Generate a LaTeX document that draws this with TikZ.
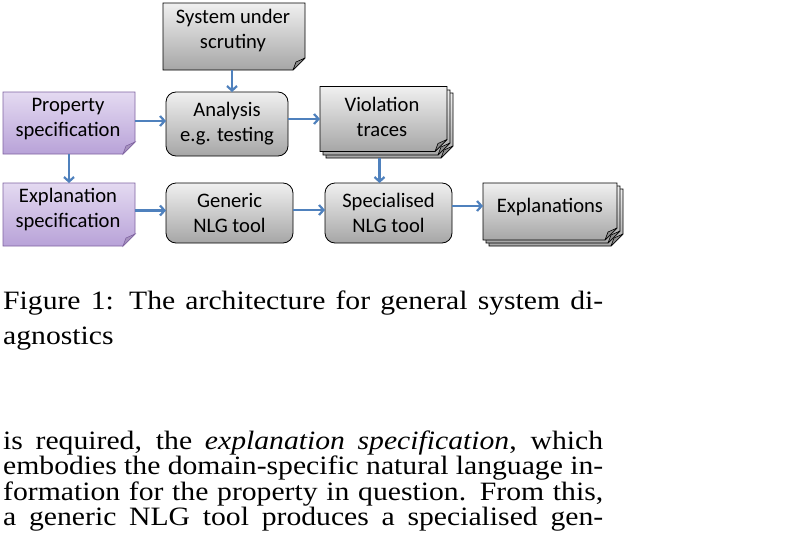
\documentclass[tikz,border=0pt]{standalone}
\usepackage{fontspec}
\usepackage{graphicx}
\setmainfont{Liberation Serif}
\newfontfamily\calib{Carlito}
\usetikzlibrary{arrows.meta,calc}
\definecolor{arrblue}{HTML}{4F81BD}
\definecolor{purpedge}{HTML}{8064A2}
\definecolor{purptop}{HTML}{E4DAF1}
\definecolor{purpbot}{HTML}{B8A2D8}
\definecolor{graytop}{HTML}{F0F0F0}
\definecolor{graybot}{HTML}{A6A6A6}
\newcommand{\mydoc}[2]{%
  \path[#2] (#1.north west) -- (#1.north east) -- ([yshift=12pt]#1.south east)
    -- ([xshift=-12pt]#1.south east) -- (#1.south west) -- cycle;
  \path[foldst] ([yshift=12pt]#1.south east) -- ([xshift=-12pt]#1.south east)
    -- ([xshift=-9pt,yshift=8pt]#1.south east) -- cycle;}
\newcommand{\stretchline}[1]{\resizebox{600pt}{\height}{\makebox[536pt][s]{#1}}}
\begin{document}
\begin{tikzpicture}[x=1pt,y=-1pt,
  frame/.style={draw=none,inner sep=0pt,outer sep=0pt},
  grayfill/.style={top color=graytop,bottom color=graybot,draw=black,line width=0.8pt},
  purpfill/.style={top color=purptop,bottom color=purpbot,draw=purpedge,line width=0.8pt},
  foldst/.style={fill=black!45,draw=black,line width=0.6pt,line join=round},
  purpfold/.style={fill=purpedge!70,draw=purpedge,line width=0.6pt},
  lbl/.style={inner sep=0pt,align=center,font=\calib\fontsize{20.6}{25}\selectfont},
  rbox/.style={grayfill,rounded corners=10pt,inner sep=0pt,outer sep=0pt,align=center,
    font=\calib\fontsize{20.6}{25}\selectfont},
  arr/.style={draw=arrblue,line width=2.2pt,-{Straight Barb[length=4.5pt,width=10pt]}},
  body/.style={anchor=base west,inner sep=0pt,font=\fontsize{26.5}{25}\selectfont}]
\useasboundingbox (0,0) rectangle (798,538);
\fill[white] (0,0) rectangle (798,538);
% document shapes
\node[frame,minimum width=142pt,minimum height=67pt] (sys) at (234,36.5) {};
\mydoc{sys}{grayfill}
\node[lbl] (sysT) at (233,31) {System under\\scrutiny};
\node[frame,minimum width=132pt,minimum height=62pt] (prop) at (69,123) {};
{\tikzset{foldst/.style={purpfold}}\mydoc{prop}{purpfill}}
\node[lbl] (propT) at (68,119.5) {Property\\specification};
\node[frame,minimum width=132pt,minimum height=63pt] (expl) at (69,214.5) {};
{\tikzset{foldst/.style={purpfold}}\mydoc{expl}{purpfill}}
\node[lbl] (explT) at (68,210) {Explanation\\specification};
% stacked violation traces
\node[frame,minimum width=127pt,minimum height=65pt] (viol3) at (389.5,125.5) {};
\node[frame,minimum width=127pt,minimum height=65pt] (viol2) at (386.5,122.5) {};
\node[frame,minimum width=127pt,minimum height=65pt] (viol) at (383.5,119) {};
\mydoc{viol3}{grayfill}\mydoc{viol2}{grayfill}\mydoc{viol}{grayfill}
\node[lbl] (violT) at (382,117) {Violation\\traces};
% stacked explanations
\node[frame,minimum width=134pt,minimum height=57pt] (expls3) at (556,217.5) {};
\node[frame,minimum width=134pt,minimum height=57pt] (expls2) at (553,214.5) {};
\node[frame,minimum width=134pt,minimum height=57pt] (expls) at (550,211.5) {};
\mydoc{expls3}{grayfill}\mydoc{expls2}{grayfill}\mydoc{expls}{grayfill}
\node[lbl] (explsT) at (550,207) {Explanations};
% rounded process boxes
\node[rbox,minimum width=122pt,minimum height=64pt] (ana) at (227,124) {Analysis\\e.g. testing};
\node[rbox,minimum width=127pt,minimum height=60pt] (gen) at (229.5,213) {Generic\\NLG tool};
\node[rbox,minimum width=127pt,minimum height=60pt] (spec) at (388.5,213) {Specialised\\NLG tool};
% connectors
\draw[arr] ([xshift=-2pt]sys.south) -- ([xshift=-2pt]sys.south |- ana.north);
\draw[arr] ([yshift=2pt]prop.east) -- ([yshift=2pt]prop.east -| ana.west);
\draw[arr] (ana.east |- viol.west) -- (viol.west);
\draw[arr] (prop.south) -- (prop.south |- expl.north);
\draw[arr] ([yshift=4pt]expl.east) -- ([yshift=4pt]expl.east -| gen.west);
\draw[arr] ([yshift=3pt]gen.east) -- ([yshift=3pt]gen.east -| spec.west);
\draw[arr] ([xshift=-4pt]viol.south |- viol3.south) -- ([xshift=-4pt]viol.south |- spec.north);
\draw[arr] ([yshift=7pt]spec.east) -- ([yshift=7pt]spec.east -| expls.west);
% caption and body text
\node[body] (cap1) at (3,309.5) {\stretchline{Figure 1: The architecture for general system di-}};
\node[body] (cap2) at (3,344.5) {\scalebox{1.1194}[1]{agnostics}};
\node[body] (p1) at (3,449) {\stretchline{is required, the \textit{explanation specification}, which}};
\node[body] (p2) at (3,474.5) {\stretchline{embodies the domain-specific natural language in-}};
\node[body] (p3) at (3,500) {\stretchline{formation for the property in question. From this,}};
\node[body] (p4) at (3,525.5) {\stretchline{a generic NLG tool produces a specialised gen-}};
\end{tikzpicture}
\end{document}
